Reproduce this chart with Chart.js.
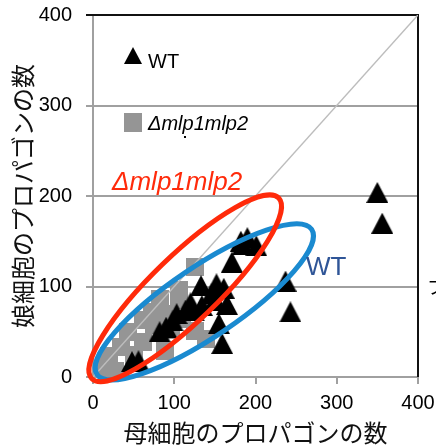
<!DOCTYPE html>
<html>
<head>
<meta charset="utf-8">
<script src="https://cdn.jsdelivr.net/npm/chart.js@4/dist/chart.umd.min.js"></script>
<style>
  body { margin: 0; background: #fff; }
  #grafico { display: block; }
</style>
</head>
<body>
<canvas id="grafico" width="436" height="445"></canvas>
<script>
// datos
const wtX = [350, 356, 237, 243, 182, 190, 201, 184, 171, 133, 152, 161, 146, 165, 114, 124, 134, 103, 90, 82, 155, 159, 56, 48, 98, 120, 150];
const wtY = [204, 170, 106, 72, 150, 154, 145, 146, 127, 101, 103, 98, 92, 80, 74, 73, 79, 70, 55, 50, 59, 37, 18, 17, 62, 82, 85];

const mlpX = [126, 106, 106, 82, 61, 43, 20, 27, 88, 125, 139, 75, 62, 96, 50, 15, 72, 92, 35, 110];
const mlpY = [122, 96, 85, 86, 63, 50, 23, 7, 29, 51, 42, 57, 39, 52, 24, 10, 72, 70, 33, 64];

const diagX = [0, 400];
const diagY = [0, 400];
const ticksEje = [0, 100, 200, 300, 400];

const nombres = ['WT', 'Δmlp1mlp2'];
const tituloX = '母細胞のプロパゴンの数';
const tituloY = '娘細胞のプロパゴンの数';

const fuente = "'Liberation Sans', Arial, sans-serif";
const fuenteJp = "'Noto Sans CJK JP', sans-serif";

// marcas
function marcaTriangulo(w, h, color) {
    const c = document.createElement('canvas');
    c.width = w; c.height = h;
    const g = c.getContext('2d');
    g.fillStyle = color;
    g.beginPath();
    g.moveTo(w / 2, 0);
    g.lineTo(w, h);
    g.lineTo(0, h);
    g.closePath();
    g.fill();
    return c;
}

function marcaCuadro(w, h, color) {
    const c = document.createElement('canvas');
    c.width = w; c.height = h;
    const g = c.getContext('2d');
    g.fillStyle = color;
    g.fillRect(0, 0, w, h);
    return c;
}

const triangulo = marcaTriangulo(22, 21, '#000');
const cuadro = marcaCuadro(18, 18, '#959595');
const trianguloLeyenda = marcaTriangulo(18, 17, '#000');
const cuadroLeyenda = marcaCuadro(18, 19, '#959595');

// elipses (centro en unidades de datos, radios en px)
const elipses = [
    { cx: 137, cy: 83, rx: 129.5, ry: 35, ang: 34, color: '#1a8ad0' },
    { cx: 113.5, cy: 98, rx: 130, ry: 33, ang: 44, color: '#ff2a0a' }
];

const pluginDibujo = {
    id: 'dibujo',
    beforeDatasetsDraw(chart) {
        const { ctx, chartArea: a } = chart;
        // borde superior y derecho
        ctx.save();
        ctx.strokeStyle = '#111';
        ctx.lineWidth = 2;
        ctx.beginPath();
        ctx.moveTo(86, a.top);
        ctx.lineTo(a.right, a.top);
        ctx.lineTo(a.right, a.bottom);
        ctx.stroke();
        ctx.restore();
    },
    afterDatasetsDraw(chart) {
        const { ctx, scales: { x, y } } = chart;
        ctx.save();
        ctx.lineWidth = 5;
        elipses.forEach(e => {
            ctx.strokeStyle = e.color;
            ctx.beginPath();
            ctx.ellipse(x.getPixelForValue(e.cx), y.getPixelForValue(e.cy), e.rx, e.ry, -e.ang * Math.PI / 180, 0, Math.PI * 2);
            ctx.stroke();
        });

        // leyenda
        ctx.drawImage(trianguloLeyenda, 124, 47);
        ctx.drawImage(cuadroLeyenda, 124, 113);
        ctx.fillStyle = '#000';
        ctx.font = `20px ${fuente}`;
        ctx.fillText(nombres[0], 148, 68);
        ctx.font = `italic 20px ${fuente}`;
        ctx.fillText(nombres[1], 148, 130);
        ctx.fillRect(184, 136, 2, 2);

        // etiquetas de las elipses
        ctx.fillStyle = '#ff2a0a';
        ctx.font = `italic 26px ${fuente}`;
        ctx.fillText(nombres[1], 112, 190);
        ctx.fillStyle = '#2f5597';
        ctx.font = `26px ${fuente}`;
        ctx.fillText(nombres[0], 306, 275);

        // resto de otra figura en el borde
        ctx.fillStyle = '#000';
        ctx.font = `18px ${fuenteJp}`;
        ctx.fillText('フ', 427, 294);
        ctx.restore();
    }
};

const ctx = document.getElementById('grafico');

new Chart(ctx, {
    type: 'scatter',
    data: {
        datasets: [
            {
                label: nombres[0],
                data: wtX.map((v, i) => ({ x: v, y: wtY[i] })),
                pointStyle: triangulo,
                order: 0
            },
            {
                type: 'line',
                label: 'diag',
                data: diagX.map((v, i) => ({ x: v, y: diagY[i] })),
                borderColor: '#bdbdbd',
                borderWidth: 1.5,
                pointRadius: 0,
                order: 1
            },
            {
                label: nombres[1],
                data: mlpX.map((v, i) => ({ x: v, y: mlpY[i] })),
                pointStyle: cuadro,
                order: 2
            }
        ]
    },
    options: {
        responsive: false,
        animation: false,
        layout: { padding: { top: 15, right: 18, left: 0, bottom: 0 } },
        plugins: {
            legend: { display: false },
            tooltip: { enabled: false }
        },
        scales: {
            x: {
                type: 'linear',
                min: 0,
                max: 400,
                afterFit: s => { s.height = 68; s.paddingLeft = 0; s.paddingRight = 0; },
                afterBuildTicks: s => { s.ticks = ticksEje.map(v => ({ value: v })); },
                ticks: { font: { family: fuente, size: 20 }, color: '#000', padding: 7, maxRotation: 0 },
                grid: { drawOnChartArea: false, tickLength: 7, color: '#a0a0a0', lineWidth: 2 },
                border: { color: '#a0a0a0', width: 2 },
                title: { display: true, text: tituloX, font: { family: fuenteJp, size: 24 }, color: '#111', padding: { top: 0, bottom: -2 } }
            },
            y: {
                type: 'linear',
                min: 0,
                max: 400,
                afterFit: s => { s.width = 93; s.paddingTop = 0; s.paddingBottom = 0; },
                afterBuildTicks: s => { s.ticks = ticksEje.map(v => ({ value: v })); },
                ticks: { font: { family: fuente, size: 20 }, color: '#000', padding: 14 },
                grid: { tickLength: 7, color: '#a0a0a0', lineWidth: 2 },
                border: { color: '#a0a0a0', width: 2 },
                title: { display: true, text: tituloY, font: { family: fuenteJp, size: 24 }, color: '#111', padding: { top: 8, bottom: 0 } }
            }
        }
    },
    plugins: [pluginDibujo]
});
</script>
</body>
</html>
